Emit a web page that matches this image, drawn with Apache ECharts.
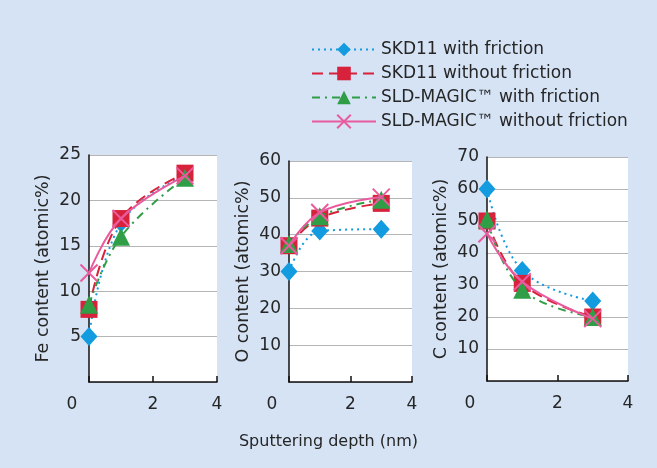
<!DOCTYPE html>
<html>
<head>
<meta charset="utf-8">
<script src="https://cdn.jsdelivr.net/npm/echarts@6/dist/echarts.min.js"></script>
<style>
html,body{margin:0;padding:0;background:#d5e3f5;}
#chart{width:657px;height:468px;}
</style>
</head>
<body>
<div id="chart"></div>
<script>
const depth = [0, 1, 3];
const seriesNames = ['SKD11 with friction', 'SKD11 without friction', 'SLD-MAGIC™ with friction', 'SLD-MAGIC™ without friction'];
const feSkdWith = [5, 17.5, 22.8];
const feSkdWithout = [8, 18, 23];
const feSldWith = [8.5, 16, 22.5];
const feSldWithout = [12, 18, 22.7];
const oSkdWith = [30, 41, 41.5];
const oSkdWithout = [37, 44.5, 48.5];
const oSldWith = [37.5, 45, 49.5];
const oSldWithout = [37, 46, 50.2];
const cSkdWith = [60, 34.5, 25];
const cSkdWithout = [50, 30.5, 20];
const cSldWith = [50.5, 28.5, 20];
const cSldWithout = [46, 31, 19.5];
const yNames = ['Fe content (atomic%)', 'O content (atomic%)', 'C content (atomic%)'];
const yMax = [25, 60, 70];
const yInterval = [5, 10, 10];
const xTitle = 'Sputtering depth (nm)';

const panels = [
  [feSkdWith, feSkdWithout, feSldWith, feSldWithout],
  [oSkdWith, oSkdWithout, oSldWith, oSldWithout],
  [cSkdWith, cSkdWithout, cSldWith, cSldWithout]
];

const font = "'DejaVu Sans', sans-serif";
const fs = 17;
const textColor = '#262626';
const styles = [
  {color: '#139be0', type: [2, 4], symbol: 'diamond', size: [17, 19]},
  {color: '#d8213a', type: [11, 6], symbol: 'rect', size: 17},
  {color: '#2f9e47', type: [8, 5, 2, 5], symbol: 'triangle', size: 18},
  {color: '#ea5b9d', type: 'solid', symbol: 'path://M0,0L10,10M10,0L0,10', size: 17}
];

const grids = [
  {left: 89, top: 155, width: 128, height: 227},
  {left: 289, top: 161, width: 123, height: 221},
  {left: 487, top: 157, width: 141, height: 224}
];

const xAxes = grids.map((g, i) => ({
  type: 'value', gridIndex: i, min: 0, max: 4, interval: 2,
  axisLine: {show: true, lineStyle: {color: '#111', width: 1.5}},
  axisTick: {show: true, inside: true, length: 6, lineStyle: {color: '#111', width: 1.5}},
  splitLine: {show: false},
  axisLabel: {
    fontSize: fs, color: textColor, fontFamily: font, margin: 14,
    formatter: v => v === 0 ? '{z|0}' : String(v),
    rich: {z: {fontSize: fs, color: textColor, fontFamily: font, padding: [0, 34, 0, 0]}}
  }
}));

const yAxes = grids.map((g, i) => ({
  type: 'value', gridIndex: i, min: 0, max: yMax[i], interval: yInterval[i],
  name: yNames[i], nameLocation: 'middle', nameGap: 37,
  nameTextStyle: {fontSize: 17.5, color: textColor, fontFamily: font},
  axisLine: {show: true, lineStyle: {color: '#111', width: 1.5}},
  axisTick: {show: false},
  splitLine: {show: true, lineStyle: {color: '#b5b5b5', width: 1}},
  axisLabel: {fontSize: fs, color: textColor, fontFamily: font, margin: 8, showMinLabel: false,
    formatter: v => v === 0 ? '' : String(v)}
}));

const series = [];
panels.forEach((vals, p) => {
  vals.forEach((arr, s) => {
    const st = styles[s];
    const isCross = s === 3;
    series.push({
      name: seriesNames[s], type: 'line', xAxisIndex: p, yAxisIndex: p,
      smooth: 0.4,
      data: depth.map((x, k) => [x, arr[k]]),
      symbol: st.symbol, symbolSize: st.size,
      lineStyle: {color: st.color, width: 2, type: st.type},
      itemStyle: isCross ? {color: 'rgba(0,0,0,0)', borderColor: st.color, borderWidth: 2} : {color: st.color, borderWidth: 0},
      emphasis: {disabled: true},
      z: 2 + s
    });
  });
});

const chart = echarts.init(document.getElementById('chart'));
chart.setOption({
  backgroundColor: '#d5e3f5',
  animation: false,
  grid: grids.map(g => Object.assign({backgroundColor: '#ffffff', show: true, borderWidth: 0}, g)),
  xAxis: xAxes,
  yAxis: yAxes,
  legend: {
    data: seriesNames,
    orient: 'vertical', left: 306, top: 36,
    itemWidth: 64, itemHeight: 17, itemGap: 7,
    textStyle: {fontSize: fs, color: textColor, fontFamily: font}
  },
  graphic: [{
    type: 'text', left: 'center', top: 434, style: {text: xTitle, fontSize: 16, fill: textColor, fontFamily: font}
  }],
  series: series
});
</script>
</body>
</html>
